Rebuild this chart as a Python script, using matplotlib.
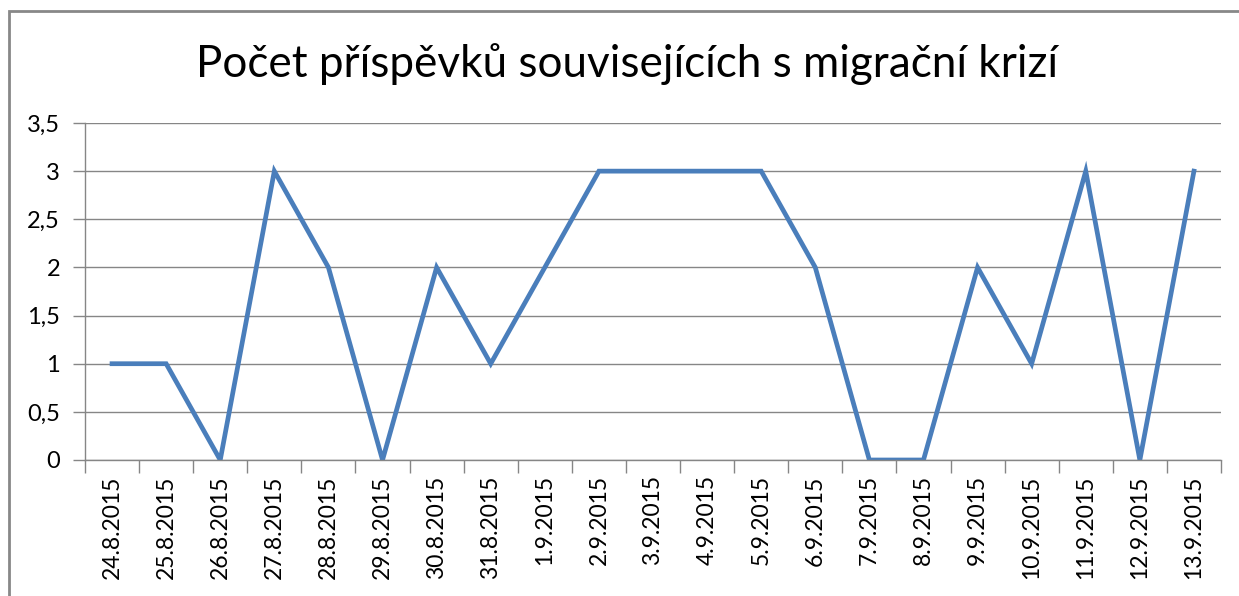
import matplotlib.pyplot as plt
import numpy as np
from matplotlib.patches import Rectangle

plt.rcParams['font.family'] = ['Lato', 'DejaVu Sans']

dates = ["24.8.2015", "25.8.2015", "26.8.2015", "27.8.2015", "28.8.2015",
         "29.8.2015", "30.8.2015", "31.8.2015", "1.9.2015", "2.9.2015",
         "3.9.2015", "4.9.2015", "5.9.2015", "6.9.2015", "7.9.2015",
         "8.9.2015", "9.9.2015", "10.9.2015", "11.9.2015", "12.9.2015",
         "13.9.2015"]
counts = [1, 1, 0, 3, 2, 0, 2, 1, 2, 3, 3, 3, 3, 2, 0, 0, 2, 1, 3, 0, 3]
yticks = [0, 0.5, 1, 1.5, 2, 2.5, 3, 3.5]

fig = plt.figure(figsize=(12.39, 5.96), dpi=100)
ax = fig.add_axes([85/1239, 1 - 460/596, (1221 - 85)/1239, (460 - 123)/596])

x = np.arange(len(dates))
ax.plot(x, counts, color='#4a7ebb', linewidth=3.4, solid_joinstyle='miter')

ax.set_xlim(-0.5, len(dates) - 0.5)
ax.set_ylim(0, 3.5)
ax.set_yticks(yticks)
ax.set_yticklabels([str(v).replace('.', ',').replace(',0', '') for v in yticks], fontsize=17)
ax.set_xticks(x)
ax.set_xticklabels(dates, rotation=90, fontsize=16.5, va='top')
ax.set_xticks(np.arange(len(dates) + 1) - 0.5, minor=True)
ax.tick_params(axis='x', which='major', length=0, pad=11)
ax.tick_params(axis='x', which='minor', length=9, color='#868686', width=1)
ax.tick_params(axis='y', length=9, color='#868686', width=1, pad=9)
ax.grid(axis='y', color='#868686', linewidth=1)
ax.set_axisbelow(True)
for s in ['top', 'right']:
    ax.spines[s].set_visible(False)
for s in ['left', 'bottom']:
    ax.spines[s].set_color('#868686')
    ax.spines[s].set_linewidth(1)

fig.text(627/1239, 1 - 64/596, "Počet příspěvků souvisejících s migrační krizí",
         ha='center', va='center', fontsize=31.7)

fig.patches.append(Rectangle((9/1239, -0.1), 1.2, 1 - 11/596 + 0.1,
                             transform=fig.transFigure, fill=False,
                             edgecolor='#888888', linewidth=2))

fig.savefig('out.png', dpi=100)
